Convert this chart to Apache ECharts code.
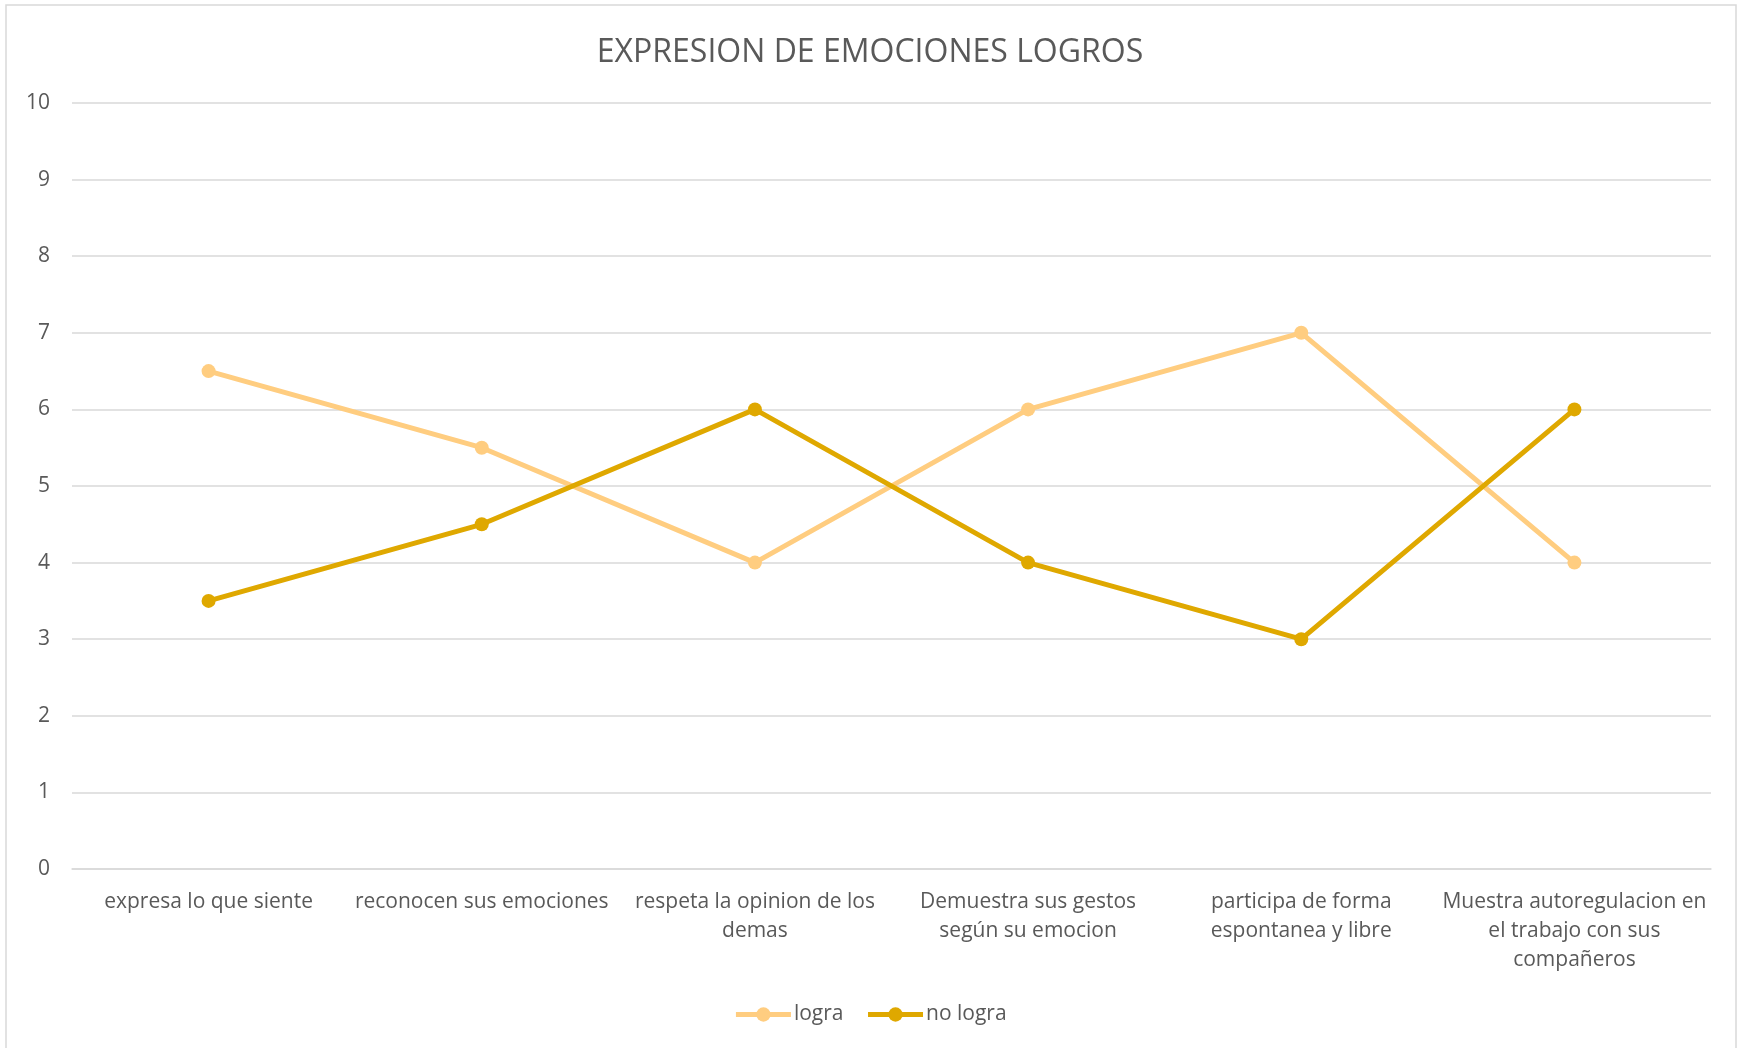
<!DOCTYPE html>
<html>
<head>
<meta charset="utf-8">
<script src="https://cdn.jsdelivr.net/npm/echarts@6/dist/echarts.min.js"></script>
<style>
  html, body { margin: 0; padding: 0; background: #fff; }
  #chart { width: 1740px; height: 1048px; }
</style>
</head>
<body>
<div id="chart"></div>
<script>
'use strict'

const TITLE = 'EXPRESION DE EMOCIONES LOGROS'
const CATEGORIES = [
  'expresa lo que siente',
  'reconocen sus emociones',
  'respeta la opinion de los\ndemas',
  'Demuestra sus gestos\nsegún su emocion',
  'participa de forma\nespontanea y libre',
  'Muestra autoregulacion en\nel trabajo con sus\ncompañeros'
]
const LOGRA = [6.5, 5.5, 4, 6, 7, 4]
const NO_LOGRA = [3.5, 4.5, 6, 4, 3, 6]

const FONT = '"Open Sans", "Noto Sans", sans-serif'
const TEXT_COLOR = '#595959'

const chart = echarts.init(document.getElementById('chart'))

function lineSeries (name, data, color) {
  return {
    name,
    type: 'line',
    data,
    symbol: 'circle',
    symbolSize: 14,
    lineStyle: { width: 5, color },
    itemStyle: { color },
    z: name === 'logra' ? 2 : 3
  }
}

const option = {
  animation: false,
  textStyle: { fontFamily: FONT },
  title: {
    text: TITLE,
    left: 'center',
    top: 32,
    textStyle: { fontSize: 32, fontWeight: 'normal', color: TEXT_COLOR, fontFamily: FONT }
  },
  graphic: [{
    type: 'rect',
    shape: { x: 6, y: 5, width: 1730, height: 1050 },
    style: { fill: 'none', stroke: '#d9d9d9', lineWidth: 1.5 },
    silent: true
  }],
  legend: {
    bottom: 18,
    left: 'center',
    itemWidth: 55,
    itemHeight: 18,
    itemGap: 22,
    lineStyle: { width: 5 },
    textStyle: { fontSize: 21, color: TEXT_COLOR, fontFamily: FONT, padding: [0, 0, 0, -2] },
    data: ['logra', 'no logra']
  },
  grid: { left: 72, right: 29, top: 103, bottom: 179, containLabel: false },
  xAxis: {
    type: 'category',
    data: CATEGORIES,
    boundaryGap: true,
    axisLine: { lineStyle: { color: '#d9d9d9', width: 1.5 } },
    axisTick: { show: false },
    axisLabel: {
      interval: 0,
      margin: 19,
      fontSize: 21,
      lineHeight: 29,
      color: TEXT_COLOR,
      fontFamily: FONT
    }
  },
  yAxis: {
    type: 'value',
    min: 0,
    max: 10,
    interval: 1,
    axisLine: { show: false },
    axisTick: { show: false },
    splitLine: { lineStyle: { color: '#d9d9d9', width: 1.5 } },
    axisLabel: { fontSize: 21, color: TEXT_COLOR, margin: 22, fontFamily: FONT }
  },
  series: [
    lineSeries('logra', LOGRA, '#ffcd80'),
    lineSeries('no logra', NO_LOGRA, '#dfa800')
  ]
}

chart.setOption(option)
</script>
</body>
</html>
